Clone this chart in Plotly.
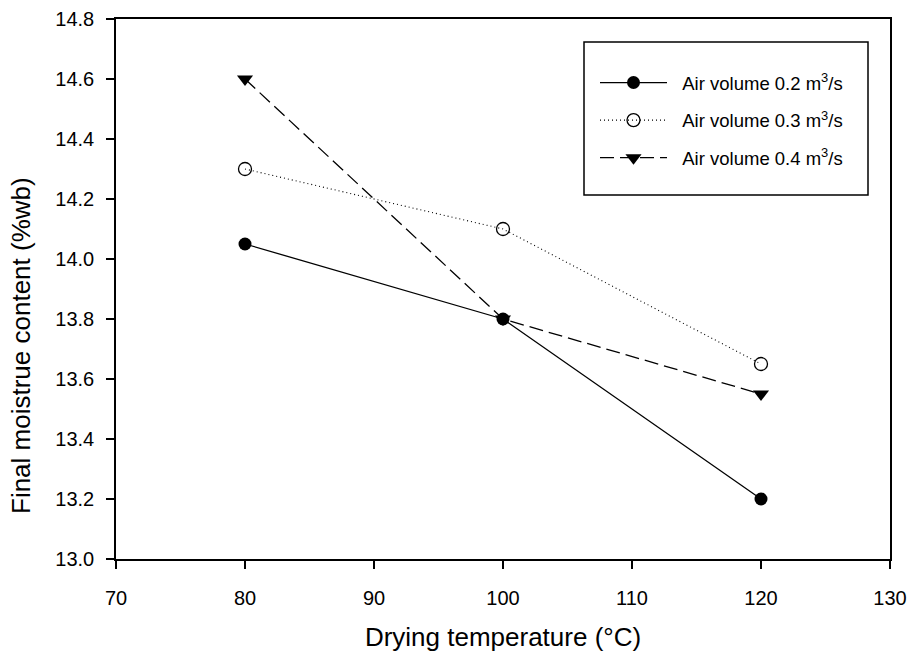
import plotly.graph_objects as go

temps = [80, 100, 120]
mc_02 = [14.05, 13.80, 13.20]
mc_03 = [14.30, 14.10, 13.65]
mc_04 = [14.60, 13.80, 13.55]
names = ["Air volume 0.2 m<sup>3</sup>/s", "Air volume 0.3 m<sup>3</sup>/s", "Air volume 0.4 m<sup>3</sup>/s"]
x_ticks = [70, 80, 90, 100, 110, 120, 130]
y_ticks = [13.0, 13.2, 13.4, 13.6, 13.8, 14.0, 14.2, 14.4, 14.6, 14.8]
x_title = "Drying temperature (°C)"
y_title = "Final moistrue content (%wb)"

FONT = "Liberation Sans, Arial, sans-serif"
PAD = "&nbsp;&nbsp;"

fig = go.Figure()
fig.add_trace(go.Scatter(x=temps, y=mc_02, name=PAD + names[0], legendgroup="a", mode="lines+markers",
                         line=dict(color="black", width=1.3, dash="solid"),
                         marker=dict(symbol="circle", size=13, color="black")))
fig.add_trace(go.Scatter(x=temps, y=mc_03, name=PAD + names[1], legendgroup="b", mode="lines+markers",
                         line=dict(color="black", width=1.1, dash="1px,3px"),
                         marker=dict(symbol="circle-open", size=13, color="black", line=dict(width=1.3))))
fig.add_trace(go.Scatter(x=temps, y=mc_04, name=PAD + names[2], legendgroup="c", mode="lines+markers",
                         line=dict(color="black", width=1.3, dash="14px,6px"),
                         marker=dict(symbol="triangle-down", size=14, color="black")))

axis_common = dict(showgrid=False, zeroline=False, showline=True, linecolor="black", linewidth=1.5,
                   mirror=True, ticks="outside", ticklen=8, tickwidth=1.5, tickcolor="black",
                   automargin=False,
                   tickfont=dict(family=FONT, size=20, color="black"))
fig.update_xaxes(range=[70, 130], tickvals=x_ticks, ticktext=[str(v) for v in x_ticks],
                 ticklabelstandoff=12,
                 title=dict(text=x_title, font=dict(family=FONT, size=26, color="black"), standoff=23),
                 **axis_common)
fig.update_yaxes(range=[13.0, 14.8], tickvals=y_ticks, ticktext=[f"{v:.1f}" for v in y_ticks],
                 ticklabelstandoff=8, **axis_common)

# y-axis title (placed as in the reference, slightly below the axis centre)
fig.add_annotation(text=y_title, xref="paper", yref="paper", x=(21 - 116) / 774, y=(559 - 346) / 540,
                   xanchor="center", yanchor="middle", textangle=-90, showarrow=False,
                   font=dict(family=FONT, size=26, color="black"))

# legend frame (paper coordinates of the plot area)
fig.add_shape(type="rect", xref="paper", yref="paper",
              x0=(584 - 116) / 774, x1=(868 - 116) / 774,
              y0=(559 - 195) / 540, y1=(559 - 42) / 540,
              line=dict(color="black", width=1.5), fillcolor="white", layer="below")

fig.update_layout(
    width=908, height=652,
    margin=dict(l=116, r=18, t=19, b=93, autoexpand=False),
    plot_bgcolor="white", paper_bgcolor="white",
    showlegend=True,
    legend=dict(x=(595 - 116) / 774, y=(559 - 64) / 540, xanchor="left", yanchor="top",
                borderwidth=0, bgcolor="rgba(0,0,0,0)",
                font=dict(family=FONT, size=18.5, color="black"),
                itemwidth=67, tracegroupgap=10.5),
)
fig.write_html("out.html")
